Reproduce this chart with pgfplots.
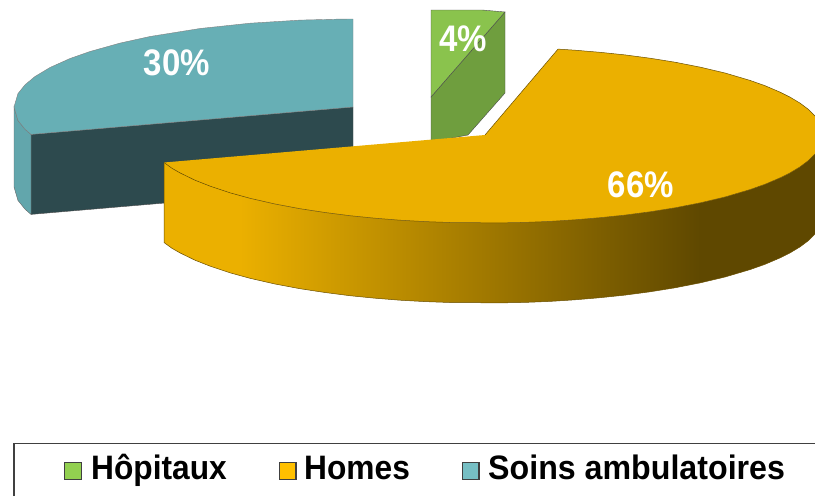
\documentclass[border=0pt]{standalone}
\usepackage{fontspec}
\setmainfont{Liberation Sans}
\usepackage{pgfplots}
\pgfplotsset{compat=1.18}
\definecolor{goldtop}{HTML}{EBB000}
\definecolor{golddark}{HTML}{5F4800}
\definecolor{tealtop}{HTML}{67AFB5}
\definecolor{tealdark}{HTML}{2D4A4E}
\definecolor{greentop}{HTML}{8AC34D}
\definecolor{greenside}{HTML}{6F9E3E}
\definecolor{legGreen}{HTML}{92D050}
\definecolor{legGold}{HTML}{FFC000}
\definecolor{legTeal}{HTML}{76BFC4}
% side of the Homes slice: flat, then darkening, then flat (path spans 25bp..75bp)
\pgfdeclarehorizontalshading{homeside}{100bp}{
  color(0bp)=(goldtop); color(30.8bp)=(goldtop);
  color(66.2bp)=(golddark); color(100bp)=(golddark)}
\newcommand{\lab}[1]{\fontsize{33}{33}\selectfont\bfseries #1}
\newcommand{\leg}[1]{\fontsize{31.7}{32}\selectfont\bfseries #1}
\begin{document}
\begin{tikzpicture}
\begin{axis}[
  x=1pt,y=1pt,y dir=reverse,
  xmin=0,xmax=815,ymin=0,ymax=496,
  hide axis,
]
% keep the full frame in the bounding box
\path (axis cs:0,0) rectangle (axis cs:815,496);
% Soins ambulatoires: inner face, rim, top
\addplot[fill=tealdark,draw=black!70,line width=0.4pt] coordinates {(31,134.4) (353,107) (353,187) (31,214.4)} --cycle;
\addplot[fill=tealtop!95!black,draw=black!60,line width=0.4pt] coordinates {(14,107) (18,120.5) (25,129.2) (31,134.4) (31,214.4) (25,209.2) (18,200.5) (14,187)} --cycle;
\addplot[fill=tealtop,draw=black!50,line width=0.4pt] coordinates {(353,19) (340,19.1) (300,20.1) (250,23.2) (200,28.5) (150,36.5) (120,43.1) (90,51.5) (70,58.5) (50,67.5) (35,76.5) (25,84.8) (18,93.5) (14,107) (18,120.5) (25,129.2) (31,134.4) (353,107)} --cycle;
% Hopitaux: side, top
\addplot[fill=greenside,draw=black!70,line width=0.4pt] coordinates {(431,97) (505,12) (505,93) (468,135) (431,142)} --cycle;
\addplot[fill=greentop,draw=black!70,line width=0.4pt] coordinates {(431,10) (457,10) (482,10) (505,12) (431,97)} --cycle;
% Homes: side, top
\addplot[shading=homeside,draw=none] coordinates {
  (164,162.5) (172,168.3) (180,172.9) (195,180.2) (210,186.1) (230,192.8) (250,198.3) (275,204) (300,208.7) (325,212.5) (350,215.7) (375,218.2) (400,220.2) (425,221.6) (450,222.5)
  (500,222.9) (525,222.4) (550,221.4) (575,219.8) (600,217.7) (625,215.1) (650,211.8) (675,207.8) (700,202.9) (725,197) (750,189.6) (765,184.3) (780,177.9) (790,172.9) (800,166.9) (808,160.9) (815,154)
  (815,234) (808,240.9) (800,246.9) (790,252.9) (780,257.9) (765,264.3) (750,269.6) (725,277) (700,282.9) (675,287.8) (650,291.8) (625,295.1) (600,297.7) (575,299.8) (550,301.4) (525,302.4)
  (500,302.9) (450,302.5) (425,301.6) (400,300.2) (375,298.2) (350,295.7) (325,292.5) (300,288.7) (275,284) (250,278.3) (230,272.8) (210,266.1) (195,260.2) (180,252.9) (172,248.3) (164,242.5)} --cycle;
\addplot[fill=goldtop,draw=none] coordinates {
  (485,135) (558,49.1) (575,50.2) (600,52.3) (625,54.9) (650,58.2) (675,62.2) (700,67.1) (725,73) (750,80.4) (765,85.7) (780,92.1) (790,97.1) (800,103.1) (808,109.1) (815,116)
  (815,154) (808,160.9) (800,166.9) (790,172.9) (780,177.9) (765,184.3) (750,189.6) (725,197) (700,202.9) (675,207.8) (650,211.8) (625,215.1) (600,217.7) (575,219.8) (550,221.4) (525,222.4)
  (500,222.9) (450,222.5) (425,221.6) (400,220.2) (375,218.2) (350,215.7) (325,212.5) (300,208.7) (275,204) (250,198.3) (230,192.8) (210,186.1) (195,180.2) (180,172.9) (172,168.3) (164,162.5)} --cycle;
% Homes outlines
\addplot[draw=black!55!goldtop,line width=0.5pt] coordinates {
  (164,162.5) (172,168.3) (180,172.9) (195,180.2) (210,186.1) (230,192.8) (250,198.3) (275,204) (300,208.7) (325,212.5) (350,215.7) (375,218.2) (400,220.2) (425,221.6) (450,222.5)
  (500,222.9) (525,222.4) (550,221.4) (575,219.8) (600,217.7) (625,215.1) (650,211.8) (675,207.8) (700,202.9) (725,197) (750,189.6) (765,184.3) (780,177.9) (790,172.9) (800,166.9) (808,160.9) (815,154)};
\addplot[draw=black!55!goldtop,line width=0.5pt] coordinates {
  (164,162.5) (164,242.5) (172,248.3) (180,252.9) (195,260.2) (210,266.1) (230,272.8) (250,278.3) (275,284) (300,288.7) (325,292.5) (350,295.7) (375,298.2) (400,300.2) (425,301.6) (450,302.5)
  (500,302.9) (525,302.4) (550,301.4) (575,299.8) (600,297.7) (625,295.1) (650,291.8) (675,287.8) (700,282.9) (725,277) (750,269.6) (765,264.3) (780,257.9) (790,252.9) (800,246.9) (808,240.9) (815,234)};
\addplot[draw=black!55!goldtop,line width=0.5pt] coordinates {
  (485,135) (558,49.1) (575,50.2) (600,52.3) (625,54.9) (650,58.2) (675,62.2) (700,67.1) (725,73) (750,80.4) (765,85.7) (780,92.1) (790,97.1) (800,103.1) (808,109.1) (815,116)};
% legend frame and keys
\addplot[draw=black!75,line width=1.3pt] coordinates {(14,496) (14,443.5) (815,443.5)};
\addplot[fill=legGreen,draw=black!75,line width=1.1pt] coordinates {(64.5,462.5) (81.5,462.5) (81.5,479.5) (64.5,479.5)} --cycle;
\addplot[fill=legGold,draw=black!75,line width=1.1pt] coordinates {(279.5,462.5) (296,462.5) (296,479.5) (279.5,479.5)} --cycle;
\addplot[fill=legTeal,draw=black!75,line width=1.1pt] coordinates {(462.5,462.5) (479,462.5) (479,479.5) (462.5,479.5)} --cycle;
% slice labels
\node[white,yscale=1.12] at (axis cs:177,63) {\lab{30\%}};
\node[white,yscale=1.12] at (axis cs:463,39) {\lab{4\%}};
\node[white,yscale=1.12] at (axis cs:641,185) {\lab{66\%}};
% legend text
\node[anchor=base west,inner sep=0pt,yscale=1.07] at (axis cs:91,479) {\leg{Hôpitaux}};
\node[anchor=base west,inner sep=0pt,yscale=1.07] at (axis cs:304,479) {\leg{Homes}};
\node[anchor=base west,inner sep=0pt,yscale=1.07,xscale=1.015] at (axis cs:488,479) {\leg{Soins ambulatoires}};
\end{axis}
\end{tikzpicture}
\end{document}
